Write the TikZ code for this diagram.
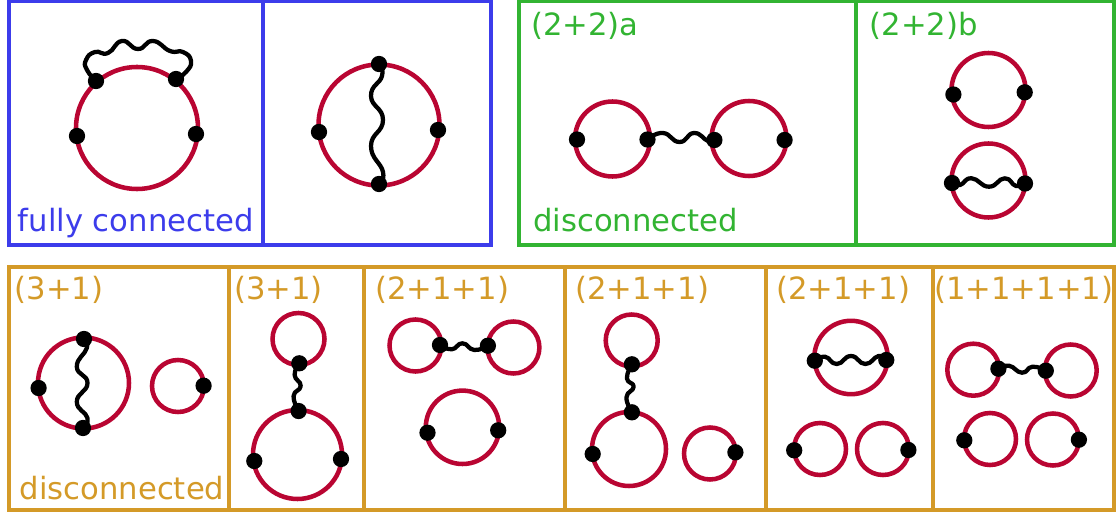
\documentclass[tikz,border=0pt]{standalone}
\usepackage{fontspec}
\setmainfont{DejaVu Sans}
\definecolor{cblue}{RGB}{60,60,235}
\definecolor{cgreen}{RGB}{50,180,50}
\definecolor{corange}{RGB}{212,154,40}
\definecolor{cred}{RGB}{185,5,50}
\tikzset{
  ring/.style={circle,draw=cred,line width=3.4pt,inner sep=0pt,minimum size=#1*1.5pt},
  blob/.style={circle,fill=black,inner sep=0pt,minimum size=12.2pt},
  wig/.style={draw=black,line width=3.2pt,line cap=round,line join=round},
  lab/.style={anchor=base west,inner sep=0pt,font=\fontsize{23pt}{26pt}\selectfont},
  frame/.style={line width=2.5pt}
}
\begin{document}
\begin{tikzpicture}[x=0.75pt,y=-0.75pt]
\useasboundingbox (0,0) rectangle (1117,513);
% frames
\draw[frame,cblue] (9,1) rectangle (491,245);
\draw[frame,cblue] (263,1) -- (263,245);
\draw[frame,cgreen] (519,1) rectangle (1114,245);
\draw[frame,cgreen] (856,1) -- (856,245);
\draw[frame,corange] (9,267) rectangle (1114,510);
\foreach \xx in {229,364,565,766,933} \draw[frame,corange] (\xx,267) -- (\xx,510);
% labels
\node[lab,text=cblue] (t1) at (17.5,232) {fully connected};
\node[lab,text=cgreen] (t2) at (533,231.5) {disconnected};
\node[lab,text=cgreen] (t3) at (531,36) {(2+2)a};
\node[lab,text=cgreen] (t4) at (869.5,36) {(2+2)b};
\node[lab,text=corange] (t5) at (19.5,499) {disconnected};
\node[lab,text=corange] (t6) at (14.5,300) {(3+1)};
\node[lab,text=corange] (t7) at (234,300) {(3+1)};
\node[lab,text=corange] (t8) at (375,300) {(2+1+1)};
\node[lab,text=corange] (t9) at (575,300) {(2+1+1)};
\node[lab,text=corange] (t10) at (776,300) {(2+1+1)};
\node[lab,text=corange] (t11) at (934,300) {(1+1+1+1)};
% rings
\node[ring=61] (r1) at (137,128) {};
\node[ring=60.5] (r2) at (379,125) {};
\node[ring=37.5] (r3) at (612.5,139) {};
\node[ring=37.5] (r4) at (749,138.5) {};
\node[ring=37] (r5) at (988.5,90) {};
\node[ring=37] (r6) at (988.5,180.5) {};
\node[ring=45.5] (r7) at (83.5,383) {};
\node[ring=26] (r8) at (178,386) {};
\node[ring=26] (r9) at (298.5,339) {};
\node[ring=44.5] (r10) at (297.5,454.5) {};
\node[ring=26] (r11) at (415.5,345.5) {};
\node[ring=26] (r12) at (513.4,347.5) {};
\node[ring=36.7] (r13) at (462.5,427.3) {};
\node[ring=26] (r14) at (631.7,340.5) {};
\node[ring=37] (r15) at (629,449) {};
\node[ring=26] (r16) at (710,453.5) {};
\node[ring=36.7] (r17) at (851,357.5) {};
\node[ring=26] (r18) at (820,449) {};
\node[ring=26] (r19) at (883,449) {};
\node[ring=26] (r20) at (973.3,369.7) {};
\node[ring=26] (r21) at (1070.7,370.5) {};
\node[ring=26] (r22) at (990,439) {};
\node[ring=26] (r23) at (1053,439.5) {};
% blobs
\node[blob] (a1) at (96,81) {};
\node[blob] (a2) at (176,79) {};
\node[blob] (a3) at (77,136) {};
\node[blob] (a4) at (196,134) {};
\node[blob] (b1) at (379,64) {};
\node[blob] (b2) at (379,184) {};
\node[blob] (b3) at (319,132) {};
\node[blob] (b4) at (438,130) {};
\node[blob] (c1) at (577,139.5) {};
\node[blob] (c2) at (647.5,139.5) {};
\node[blob] (c3) at (714.4,140) {};
\node[blob] (c4) at (784.6,140) {};
\node[blob] (d1) at (953.4,94.5) {};
\node[blob] (d2) at (1024.7,92.3) {};
\node[blob] (d3) at (952,183) {};
\node[blob] (d4) at (1025,183.5) {};
\node[blob] (e1) at (84,339) {};
\node[blob] (e2) at (83,428) {};
\node[blob] (e3) at (38.6,388) {};
\node[blob] (e4) at (203.6,385.7) {};
\node[blob] (f1) at (299.3,363.3) {};
\node[blob] (f2) at (298.6,411) {};
\node[blob] (f3) at (254.3,461) {};
\node[blob] (f4) at (341,459) {};
\node[blob] (g1) at (440,345) {};
\node[blob] (g2) at (487.9,345.7) {};
\node[blob] (g3) at (427.5,432.7) {};
\node[blob] (g4) at (498.2,430.3) {};
\node[blob] (h1) at (631.9,364.3) {};
\node[blob] (h2) at (631.9,412.3) {};
\node[blob] (h3) at (592.7,454) {};
\node[blob] (h4) at (735.4,452.3) {};
\node[blob] (i1) at (814.8,360.7) {};
\node[blob] (i2) at (886.3,360) {};
\node[blob] (i3) at (794.2,450.3) {};
\node[blob] (i4) at (908.4,450) {};
\node[blob] (j1) at (998.4,368.7) {};
\node[blob] (j2) at (1045.8,370.7) {};
\node[blob] (j3) at (964.3,440.3) {};
\node[blob] (j4) at (1078.9,439.7) {};
% wiggly connectors
\draw[wig] plot[smooth,tension=0.9] coordinates {(a1) (87,70) (86,60) (95,52) (108,53) (122,41) (138,49) (153,41) (170,51) (183,52) (191,61) (186,72) (a2)};
\draw[wig] plot[smooth,tension=0.9] coordinates {(b1) (382,76) (371,96) (383,120) (371,146) (383,172) (b2)};
\draw[wig] plot[smooth,tension=0.9] coordinates {(c2) (663,133) (679.5,142) (694,133) (708,141) (c3)};
\draw[wig] plot[smooth,tension=0.9] coordinates {(d3) (960,185) (971.6,178.3) (989,186.7) (1004.6,178.3) (1016,186) (d4)};
\draw[wig] plot[smooth,tension=0.9] coordinates {(e1) (86.8,348) (76.8,366.7) (87.5,383) (76.8,401.7) (87.5,418) (e2)};
\draw[wig] plot[smooth,tension=0.9] coordinates {(f1) (294.6,375) (300.7,386) (293.6,396) (f2)};
\draw[wig] plot[smooth,tension=0.9] coordinates {(g1) (451.8,349.3) (462.5,343.3) (474.3,350) (g2)};
\draw[wig] plot[smooth,tension=0.9] coordinates {(h1) (626.9,378.3) (633.7,386.7) (626.5,397.3) (h2)};
\draw[wig] plot[smooth,tension=0.9] coordinates {(i1) (825,356.7) (836.9,364) (851,356) (865.3,364) (878.5,356) (i2)};
\draw[wig] plot[smooth,tension=0.9] coordinates {(j1) (1009,365.7) (1022,372.7) (1032.6,366.7) (j2)};
\end{tikzpicture}
\end{document}
